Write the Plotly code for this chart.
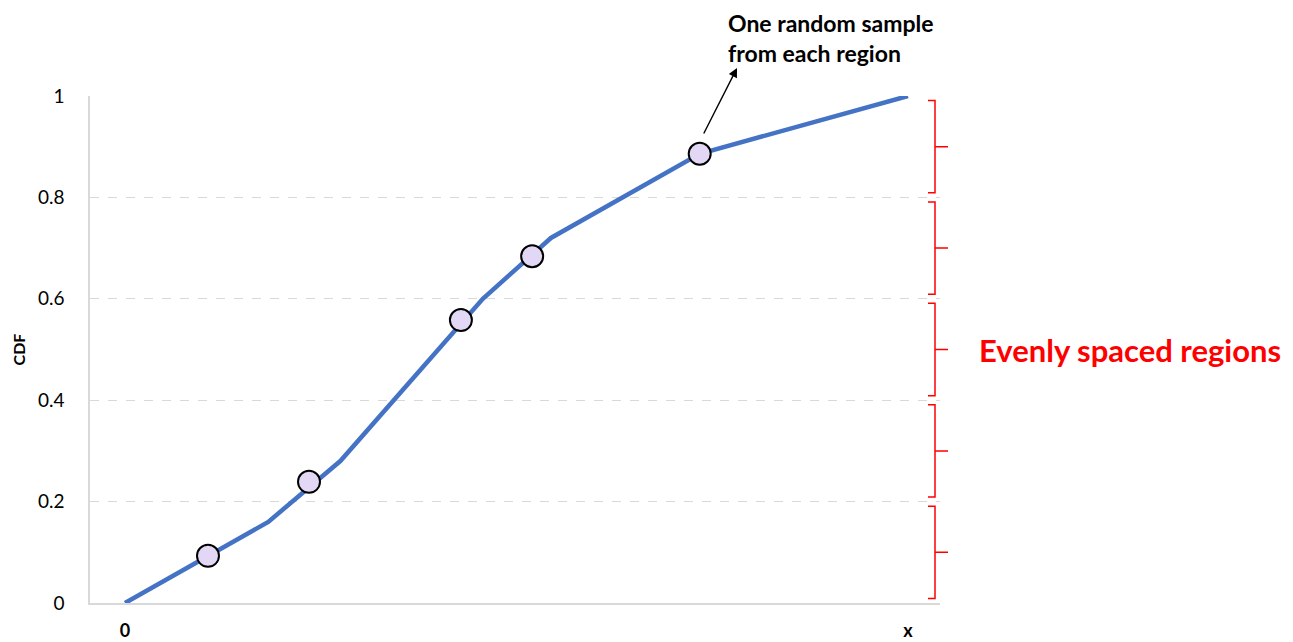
import plotly.graph_objects as go

# CDF curve vertices (x normalised: 0 -> "0", 1 -> "x")
curve_x = [0.0, 0.183, 0.275, 0.457, 0.544, 0.734, 1.0]
curve_y = [0.0, 0.160, 0.280, 0.600, 0.720, 0.886, 1.0]

# one random sample from each region
sample_x = [0.106, 0.235, 0.429, 0.520, 0.734]
sample_y = [0.093, 0.239, 0.558, 0.684, 0.886]

region_edges = [0.0, 0.2, 0.4, 0.6, 0.8, 1.0]
y_ticks = [0, 0.2, 0.4, 0.6, 0.8, 1]
y_tick_text = ["0", "0.2", "0.4", "0.6", "0.8", "1"]
x_ticks = [0, 1]
x_tick_text = ["<b>0</b>", "<b>x</b>"]

W, H = 1293, 642
L, R, T, B = 90, 353, 96, 39
plot_w = W - L - R
plot_h = H - T - B
X_MIN, X_MAX = -0.0447, 1.0409

fig = go.Figure()
fig.add_trace(go.Scatter(x=curve_x, y=curve_y, mode="lines",
                         line=dict(color="#4472C4", width=4.5), hoverinfo="skip"))
fig.add_trace(go.Scatter(x=sample_x, y=sample_y, mode="markers",
                         marker=dict(size=22, color="#E2D8F6",
                                     line=dict(color="black", width=2)),
                         cliponaxis=False))

def px_to_paper(px):
    return (px - L) / plot_w

def py_to_paper(py):
    return (H - B - py) / plot_h

shapes = []
gap = 0.009
for lo, hi in zip(region_edges[:-1], region_edges[1:]):
    top = hi - gap
    bot = lo + gap
    mid = (lo + hi) / 2
    xa = px_to_paper(928)
    xb = px_to_paper(935)
    xc = px_to_paper(948)
    path = (f"M {xa},{top} L {xb},{top} L {xb},{bot} L {xa},{bot} "
            f"M {xb},{mid} L {xc},{mid}")
    shapes.append(dict(type="path", xref="paper", yref="paper", path=path,
                       line=dict(color="#FF0000", width=1.5)))

annotations = [
    dict(xref="paper", yref="paper", x=px_to_paper(726), y=py_to_paper(38),
         text="<b>One random sample<br>from each region</b>", showarrow=False,
         xanchor="left", yanchor="middle", align="left",
         font=dict(family="Lato", size=23, color="black")),
    dict(xref="paper", yref="paper", x=px_to_paper(737), y=py_to_paper(68),
         ax=-34, ay=67, text="", showarrow=True, arrowhead=2, arrowsize=1.3,
         arrowwidth=1.4, arrowcolor="black"),
    dict(xref="paper", yref="paper", x=px_to_paper(977), y=0.5,
         text="<b>Evenly spaced regions</b>", showarrow=False,
         xanchor="left", yanchor="middle",
         font=dict(family="Lato", size=31, color="#FF0000")),
]

fig.update_layout(
    width=W, height=H,
    margin=dict(l=L, r=R, t=T, b=B, autoexpand=False),
    paper_bgcolor="white", plot_bgcolor="white",
    showlegend=False,
    shapes=shapes, annotations=annotations,
    font=dict(family="Lato", color="black"),
    xaxis=dict(range=[X_MIN, X_MAX], tickvals=x_ticks, ticktext=x_tick_text,
               showgrid=False, zeroline=False, showline=True, automargin=False,
               linecolor="#d9d9d9", linewidth=1.5, ticks="",
               ticklabelstandoff=11, tickfont=dict(size=18, family="Lato")),
    yaxis=dict(range=[0, 1], tickvals=y_ticks, ticktext=y_tick_text,
               showgrid=True, gridcolor="#d9d9d9", griddash="dash", gridwidth=1.2,
               zeroline=False, showline=True, linecolor="#d9d9d9", linewidth=1.5,
               automargin=False,
               ticks="", ticklabelstandoff=20, tickfont=dict(size=19, family="Lato"),
               title=dict(text="<b>CDF</b>", font=dict(size=16, family="Lato"),
                          standoff=8)),
)

fig.write_html("out.html", config={"displayModeBar": False},
               post_script="document.body.style.margin='0';document.body.style.overflow='hidden';")
